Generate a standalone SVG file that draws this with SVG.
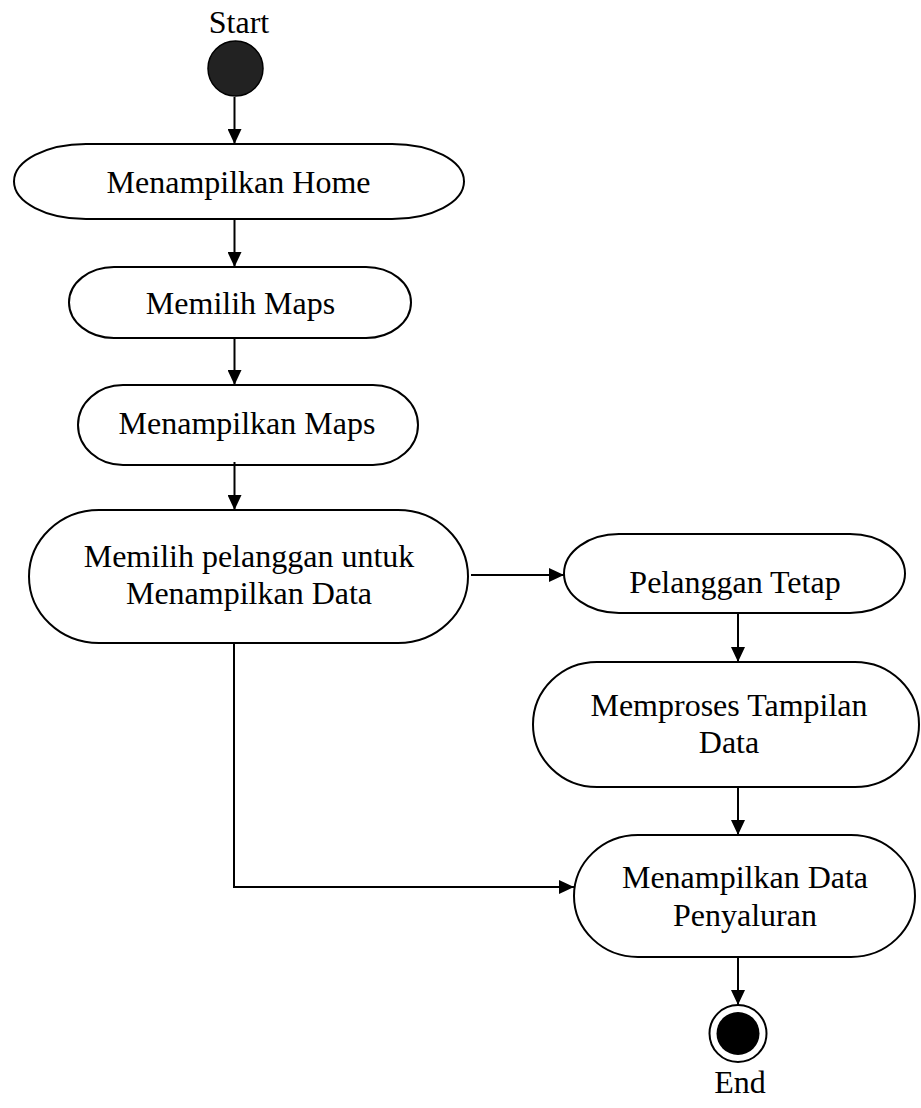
<svg xmlns="http://www.w3.org/2000/svg" width="921" height="1108" viewBox="0 0 921 1108">
  <style>
    .act { fill: #ffffff; stroke: #000000; stroke-width: 2; }
    .lbl { font-family: "Liberation Serif", "Times New Roman", serif; font-size: 32px; fill: #000000; text-anchor: middle; }
    .flow { fill: none; stroke: #000000; stroke-width: 2; }
  </style>
  <defs>
    <marker id="arrow" viewBox="0 0 15 14" refX="15" refY="7" markerWidth="15" markerHeight="14" markerUnits="userSpaceOnUse" orient="auto">
      <path d="M0,0 L15,7 L0,14 Z" fill="#000000"/>
    </marker>
  </defs>

  <rect width="921" height="1108" fill="#ffffff"/>

  <!-- initial node -->
  <g id="start">
    <text class="lbl" x="239" y="33">Start</text>
    <circle cx="235.5" cy="68.5" r="27.5" fill="#222222" stroke="#000000" stroke-width="1.5"/>
  </g>

  <g id="menampilkan-home">
    <rect class="act" x="14" y="144" width="450" height="75" rx="72" ry="37.5"/>
    <text class="lbl" x="238.5" y="193">Menampilkan Home</text>
  </g>

  <g id="memilih-maps">
    <rect class="act" x="69" y="267" width="342" height="71" rx="45" ry="35.5"/>
    <text class="lbl" x="240.5" y="314">Memilih Maps</text>
  </g>

  <g id="menampilkan-maps">
    <rect class="act" x="78" y="385" width="340" height="80" rx="45" ry="40"/>
    <text class="lbl" x="247" y="434">Menampilkan Maps</text>
  </g>

  <g id="memilih-pelanggan">
    <rect class="act" x="29" y="510" width="439" height="133" rx="70" ry="66.5"/>
    <text class="lbl" x="249" y="567">Memilih pelanggan untuk</text>
    <text class="lbl" x="249" y="604">Menampilkan Data</text>
  </g>

  <g id="pelanggan-tetap">
    <rect class="act" x="564" y="534" width="341" height="79" rx="55" ry="39.5"/>
    <text class="lbl" x="735" y="593">Pelanggan Tetap</text>
  </g>

  <g id="memproses-tampilan">
    <rect class="act" x="533" y="662" width="386" height="125" rx="64" ry="62.5"/>
    <text class="lbl" x="729" y="716">Memproses Tampilan</text>
    <text class="lbl" x="729" y="753">Data</text>
  </g>

  <g id="menampilkan-data-penyaluran">
    <rect class="act" x="574" y="835" width="341" height="122" rx="64" ry="61"/>
    <text class="lbl" x="745" y="888">Menampilkan Data</text>
    <text class="lbl" x="745" y="926">Penyaluran</text>
  </g>

  <!-- final node -->
  <g id="end">
    <circle cx="738" cy="1033.5" r="28.5" fill="#ffffff" stroke="#000000" stroke-width="2"/>
    <circle cx="738" cy="1033.5" r="21.5" fill="#000000"/>
    <text class="lbl" x="740" y="1093">End</text>
  </g>

  <g id="connectors">
    <line class="flow" x1="234.5" y1="97" x2="234.5" y2="144" marker-end="url(#arrow)"/>
    <line class="flow" x1="234.5" y1="219" x2="234.5" y2="267" marker-end="url(#arrow)"/>
    <line class="flow" x1="234.5" y1="338" x2="234.5" y2="385" marker-end="url(#arrow)"/>
    <line class="flow" x1="234.5" y1="462" x2="234.5" y2="510" marker-end="url(#arrow)"/>
    <line class="flow" x1="471" y1="575" x2="564" y2="575" marker-end="url(#arrow)"/>
    <line class="flow" x1="738" y1="613" x2="738" y2="662" marker-end="url(#arrow)"/>
    <line class="flow" x1="738" y1="787" x2="738" y2="835" marker-end="url(#arrow)"/>
    <polyline class="flow" points="234,643 234,887 574,887" marker-end="url(#arrow)"/>
    <line class="flow" x1="738" y1="957" x2="738" y2="1005" marker-end="url(#arrow)"/>
  </g>
</svg>
